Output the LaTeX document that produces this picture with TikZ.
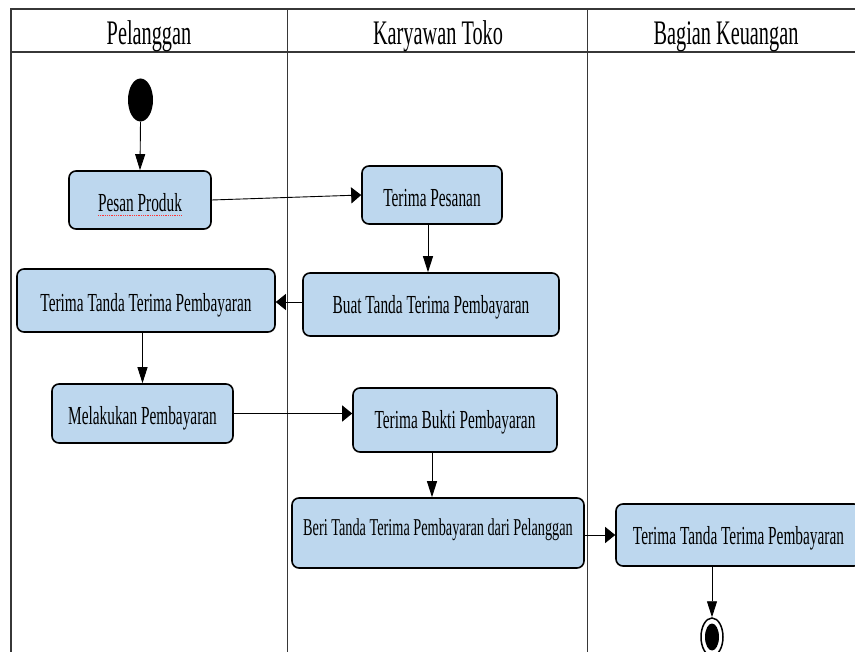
\documentclass[tikz,border=0pt]{standalone}
\usepackage{fontspec}
\setmainfont{Liberation Serif}[FakeStretch=0.59]
\usetikzlibrary{arrows.meta,calc,shapes.geometric}
\definecolor{actfill}{RGB}{189,215,238}
\definecolor{laneline}{RGB}{55,55,55}
\begin{document}
\begin{tikzpicture}[x=1pt,y=-1pt,
  act/.style={draw=black,line width=1.6pt,fill=actfill,rounded corners=7pt,inner sep=0pt,
    font=\fontsize{26}{30}\selectfont,text height=23pt,text depth=0pt},
  flow/.style={line width=0.9pt,draw=black},
  varr/.style={flow,-{Triangle[length=16pt,width=10pt]}},
  harr/.style={flow,-{Triangle[length=10pt,width=16pt]}},
  lanehdr/.style={anchor=base,inner sep=0pt,font=\fontsize{34.4}{40}\selectfont},
  lane/.style={draw=laneline,line width=0.8pt},
]
\useasboundingbox (0,0) rectangle (855,652);
\clip (0,0) rectangle (855,652);

% swimlanes
\draw[lane,line width=1.5pt] (11,652) -- (11,9) -- (870,9);
\draw[lane,line width=1.2pt] (11,52) -- (870,52);
\draw[lane] (287,9) -- (287,652);
\draw[lane] (587,9) -- (587,652);

\node[lanehdr] (h1) at (149,45) {Pelanggan};
\node[lanehdr] (h2) at (438,45) {Karyawan Toko};
\node[lanehdr] (h3) at (726,45) {Bagian Keuangan};

% start
\node[ellipse,fill=black,draw=none,inner sep=0pt,minimum width=25pt,minimum height=43pt] (start) at (140.5,100) {};

% activities
\node[act,minimum width=142pt,minimum height=58pt,text height=22.4pt] (pp) at (140,200) {Pesan Produk};
\node[act,minimum width=140pt,minimum height=58pt] (tp) at (432,195) {Terima Pesanan};
\node[act,minimum width=256pt,minimum height=63pt,text height=17.4pt] (buat) at (431,304.5) {Buat Tanda Terima Pembayaran};
\node[act,minimum width=258pt,minimum height=63pt] (ttp1) at (146,300.5) {Terima Tanda Terima Pembayaran};
\node[act,minimum width=181pt,minimum height=59pt,text height=21.8pt] (mel) at (142.5,413.5) {Melakukan Pembayaran};
\node[act,minimum width=204pt,minimum height=64pt,text height=17.4pt] (tb) at (455,420) {Terima Bukti Pembayaran};
\node[act,minimum width=292pt,minimum height=70pt,font=\fontsize{24.2}{28}\selectfont,text height=16pt,text depth=12pt] (beri) at (438,533) {Beri Tanda Terima Pembayaran dari Pelanggan};
\node[act,minimum width=245pt,minimum height=62pt,text height=19.4pt] (keu) at (738.5,535) {Terima Tanda Terima Pembayaran};

% spell-check squiggle under "Pesan Produk"
\draw[red!80,densely dotted,line width=0.8pt] ([xshift=-42pt,yshift=-15pt]pp.center) -- ([xshift=42pt,yshift=-15pt]pp.center);

% final node
\node[ellipse,draw=black,line width=1.5pt,fill=white,inner sep=0pt,minimum width=22pt,minimum height=38pt] (fin) at (712,637) {};
\node[ellipse,fill=black,inner sep=0pt,minimum width=14pt,minimum height=27pt] (finin) at (fin.center) {};

% flows
\draw[varr] (start.south) -- (pp.north);
\draw[harr] (pp.east) -- (tp.west);
\draw[varr] ([xshift=-4pt]tp.south) -- ([xshift=-3pt]buat.north);
\draw[harr] ([yshift=2.5pt]buat.west) -- ([yshift=2.5pt]buat.west -| ttp1.east);
\draw[varr] (ttp1.south -| mel.north) -- (mel.north);
\draw[harr] (mel.east) -- (mel.east -| tb.west);
\draw[varr] ([xshift=-23pt]tb.south) -- ([xshift=-23pt]tb.south |- beri.north);
\draw[harr] (keu.west -| beri.east) -- (keu.west);
\draw[varr] (keu.south -| fin.north) -- (fin.north);
\end{tikzpicture}
\end{document}
